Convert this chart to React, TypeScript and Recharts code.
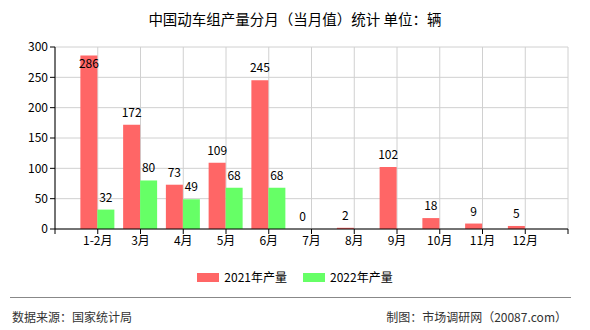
import React from 'react';
import { BarChart, Bar, XAxis, YAxis, CartesianGrid, LabelList } from 'recharts';

const categories = ['1-2月', '3月', '4月', '5月', '6月', '7月', '8月', '9月', '10月', '11月', '12月'];
const values2021 = [286, 172, 73, 109, 245, 0, 2, 102, 18, 9, 5];
const values2022: (number | null)[] = [32, 80, 49, 68, 68, null, null, null, null, null, null];
const yTicks = [0, 50, 100, 150, 200, 250, 300];
const seriesNames = ['2021年产量', '2022年产量'];
const colors = ['#ff6666', '#66ff66'];

const data = categories.map((c, i) => ({ x: i + 1, name: c, v2021: values2021[i], v2022: values2022[i] }));
const xTicks = Array.from({ length: categories.length + 2 }, (_, i) => i);

const FONT = 'SimSun, "Noto Sans CJK SC", sans-serif';
const PLOT_TOP = 47;

const renderLabel = (props: any) => {
  const { x, y, width, value } = props;
  if (value === null || value === undefined) return null;
  const cx = Number(x) + Number(width) / 2;
  let ty = Number(y) - 8;
  if (ty - 10 < PLOT_TOP) ty = Number(y) + 13;
  return (
    <text x={cx} y={ty} textAnchor="middle" fontSize={12} fill="#000" fontFamily={FONT}>
      {value}
    </text>
  );
};

export default function App() {
  return (
    <div style={{ position: 'absolute', left: 0, top: 0, width: 590, height: 330, background: '#fff', fontFamily: FONT }}>
      <div style={{ position: 'absolute', left: 0, top: 8, width: 590, textAlign: 'center', fontSize: 14.5, color: '#000' }}>
        中国动车组产量分月（当月值）统计 单位：辆
      </div>
      <BarChart
        width={590}
        height={330}
        data={data}
        margin={{ top: PLOT_TOP, right: 22, bottom: 81, left: 0 }}
        barGap={0}
      >
        <CartesianGrid stroke="#d0d0d0" />
        <XAxis
          dataKey="x"
          type="number"
          domain={[0, categories.length + 1]}
          ticks={xTicks}
          interval={0}
          tickFormatter={(v: number) => categories[v - 1] ?? ''}
          stroke="#000"
          tickSize={5}
          tick={{ fill: '#000', fontSize: 12, fontFamily: FONT }}
          height={20}
        />
        <YAxis
          domain={[0, 300]}
          ticks={yTicks}
          interval={0}
          width={55}
          stroke="#000"
          tickSize={5}
          tick={{ fill: '#000', fontSize: 12, fontFamily: FONT }}
        />
        <Bar dataKey="v2021" fill={colors[0]} barSize={17} minPointSize={0.01} isAnimationActive={false}>
          <LabelList dataKey="v2021" content={renderLabel} />
        </Bar>
        <Bar dataKey="v2022" fill={colors[1]} barSize={17} isAnimationActive={false}>
          <LabelList dataKey="v2022" content={renderLabel} />
        </Bar>
      </BarChart>
      <div style={{ position: 'absolute', left: 0, top: 269, width: 590, display: 'flex', justifyContent: 'center', fontSize: 12, color: '#000', lineHeight: '16px' }}>
        {seriesNames.map((n, i) => (
          <div key={n} style={{ display: 'flex', alignItems: 'center', marginRight: i === 0 ? 16 : 0 }}>
            <span style={{ display: 'inline-block', width: 22, height: 9, background: colors[i], marginRight: 5 }} />
            <span>{n}</span>
          </div>
        ))}
      </div>
      <div style={{ position: 'absolute', left: 10, top: 297, width: 561, height: 1, background: '#888' }} />
      <div style={{ position: 'absolute', left: 12, top: 308, fontSize: 12, color: '#333' }}>数据来源：国家统计局</div>
      <div style={{ position: 'absolute', right: 23, top: 308, fontSize: 12, color: '#333' }}>制图：市场调研网（20087.com）</div>
    </div>
  );
}
